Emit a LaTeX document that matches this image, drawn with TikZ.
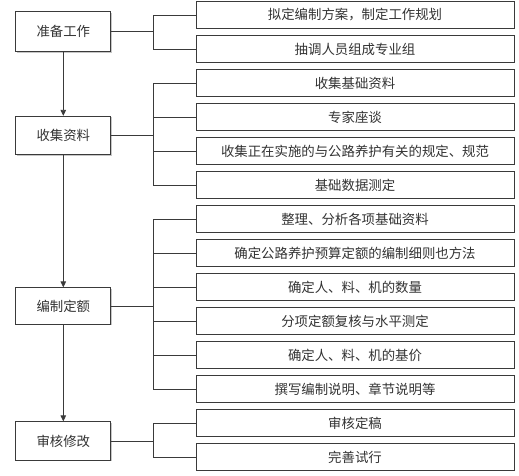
\documentclass[tikz,border=0pt]{standalone}
\usepackage{fontspec}
\setmainfont{Noto Sans CJK SC}
\usetikzlibrary{arrows.meta,shadows}
\definecolor{ln}{HTML}{3A3A3A}
\definecolor{tx}{HTML}{333333}
\tikzset{
  box/.style={draw=ln, line width=0.8pt, fill=white, text=tx, font=\fontsize{13.4}{15}\selectfont,
    inner sep=0pt, drop shadow={shadow xshift=0.9pt, shadow yshift=-0.9pt, fill=gray!45, opacity=1}},
  leftbox/.style={box, minimum width=95pt, minimum height=38.5pt},
  rightbox/.style={box, minimum width=318pt, minimum height=26.7pt},
  conn/.style={draw=ln, line width=0.8pt},
  arr/.style={conn, -{Triangle[length=6pt,width=5.5pt]}}
}
\begin{document}
\begin{tikzpicture}[x=1pt,y=-1pt]
\useasboundingbox (0,0) rectangle (519,475);
\fill[white] (0,0) rectangle (519,475);
% left boxes
\node[leftbox, minimum height=40pt] (L1) at (63.3,31.7) {准备工作};
\node[leftbox] (L2) at (63.3,135.5) {收集资料};
\node[leftbox, minimum height=36.5pt] (L3) at (63.3,306) {编制定额};
\node[leftbox] (L4) at (63.3,441) {审核修改};
% right boxes
\node[rightbox] (R1) at (355,15) {拟定编制方案，制定工作规划};
\node[rightbox] (R2) at (355,49) {抽调人员组成专业组};
\node[rightbox] (R3) at (355,83) {收集基础资料};
\node[rightbox] (R4) at (355,117) {专家座谈};
\node[rightbox] (R5) at (355,151) {收集正在实施的与公路养护有关的规定、规范};
\node[rightbox] (R6) at (355,185) {基础数据测定};
\node[rightbox] (R7) at (355,219) {整理、分析各项基础资料};
\node[rightbox] (R8) at (355,253) {确定公路养护预算定额的编制细则也方法};
\node[rightbox] (R9) at (355,287) {确定人、料、机的数量};
\node[rightbox] (R10) at (355,321) {分项定额复核与水平测定};
\node[rightbox] (R11) at (355,355) {确定人、料、机的基价};
\node[rightbox] (R12) at (355,389) {撰写编制说明、章节说明等};
\node[rightbox] (R13) at (355,423) {审核定稿};
\node[rightbox] (R14) at (355,457) {完善试行};
% trunk coordinates
\coordinate (T1) at (153,31.7);
\coordinate (T2) at (153,135.5);
\coordinate (T3) at (153,306);
\coordinate (T4) at (153,441);
% vertical arrows
\draw[arr] (L1.south) -- (L2.north);
\draw[arr] (L2.south) -- (L3.north);
\draw[arr] (L3.south) -- (L4.north);
% group 1
\draw[conn] (L1.east) -- (T1);
\draw[conn] (R1.west) -- (R1.west -| T1) -- (R2.west -| T1) -- (R2.west);
% group 2
\draw[conn] (L2.east) -- (T2);
\draw[conn] (R3.west) -- (R3.west -| T2) -- (R6.west -| T2) -- (R6.west);
\foreach \r in {R4,R5} \draw[conn] (\r.west -| T2) -- (\r.west);
% group 3
\draw[conn] (L3.east) -- (T3);
\draw[conn] (R7.west) -- (R7.west -| T3) -- (R12.west -| T3) -- (R12.west);
\foreach \r in {R8,R9,R10,R11} \draw[conn] (\r.west -| T3) -- (\r.west);
% group 4
\draw[conn] (L4.east) -- (T4);
\draw[conn] (R13.west) -- (R13.west -| T4) -- (R14.west -| T4) -- (R14.west);
\end{tikzpicture}
\end{document}
